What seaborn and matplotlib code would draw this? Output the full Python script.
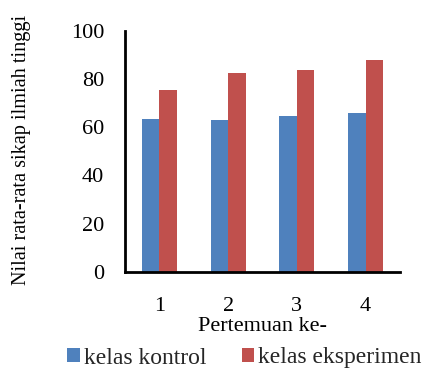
import matplotlib
matplotlib.use("Agg")
import matplotlib.pyplot as plt
import seaborn as sns
import pandas as pd

# Mean scientific-attitude scores per meeting
pertemuan = ["1", "2", "3", "4"]
kelas_kontrol = [63.5, 62.8, 64.5, 66.0]
kelas_eksperimen = [75.5, 82.5, 83.5, 87.7]
series_names = ["kelas kontrol", "kelas eksperimen"]
colors = ["#4F81BD", "#C0504D"]

df = pd.DataFrame({
    "Pertemuan": pertemuan * 2,
    "Nilai": kelas_kontrol + kelas_eksperimen,
    "Kelas": [series_names[0]] * 4 + [series_names[1]] * 4,
})

sns.set_theme(style="white")
plt.rcParams["font.family"] = ["Liberation Serif", "DejaVu Serif"]

fig = plt.figure(figsize=(4.26, 3.70), dpi=100)
ax = fig.add_axes([125 / 426, 1 - 272 / 370, 275 / 426, (272 - 30.5) / 370])

sns.barplot(data=df, x="Pertemuan", y="Nilai", hue="Kelas",
            palette=colors, width=0.51, gap=0, ax=ax,
            saturation=1, errorbar=None, linewidth=0)

ax.set_ylim(0, 100)
ax.set_yticks([0, 20, 40, 60, 80, 100])
ax.set_xlim(-0.5, 3.5)
for side in ["top", "right"]:
    ax.spines[side].set_visible(False)
for side in ["left", "bottom"]:
    ax.spines[side].set_color("black")
    ax.spines[side].set_linewidth(2)
ax.tick_params(axis="both", length=0, labelsize=16, colors="black")
ax.tick_params(axis="y", pad=15)
ax.tick_params(axis="x", pad=18)

ax.set_xlabel("Pertemuan ke-", fontsize=16, color="black", labelpad=1)
ax.set_ylabel("")
fig.text(22 / 426, 1 - 150 / 370, "Nilai rata-rata sikap ilmiah tinggi",
         rotation=90, ha="center", va="center", fontsize=14.6, color="black")

handles, labels = ax.get_legend_handles_labels()
ax.get_legend().remove()
fig.legend(handles, labels, loc="center", bbox_to_anchor=(0.574, 1 - 358 / 370),
           ncol=2, frameon=False, fontsize=17, handlelength=0.53,
           handleheight=0.53, handletextpad=0.17, columnspacing=1.5)

fig.savefig("out.png", dpi=100)
